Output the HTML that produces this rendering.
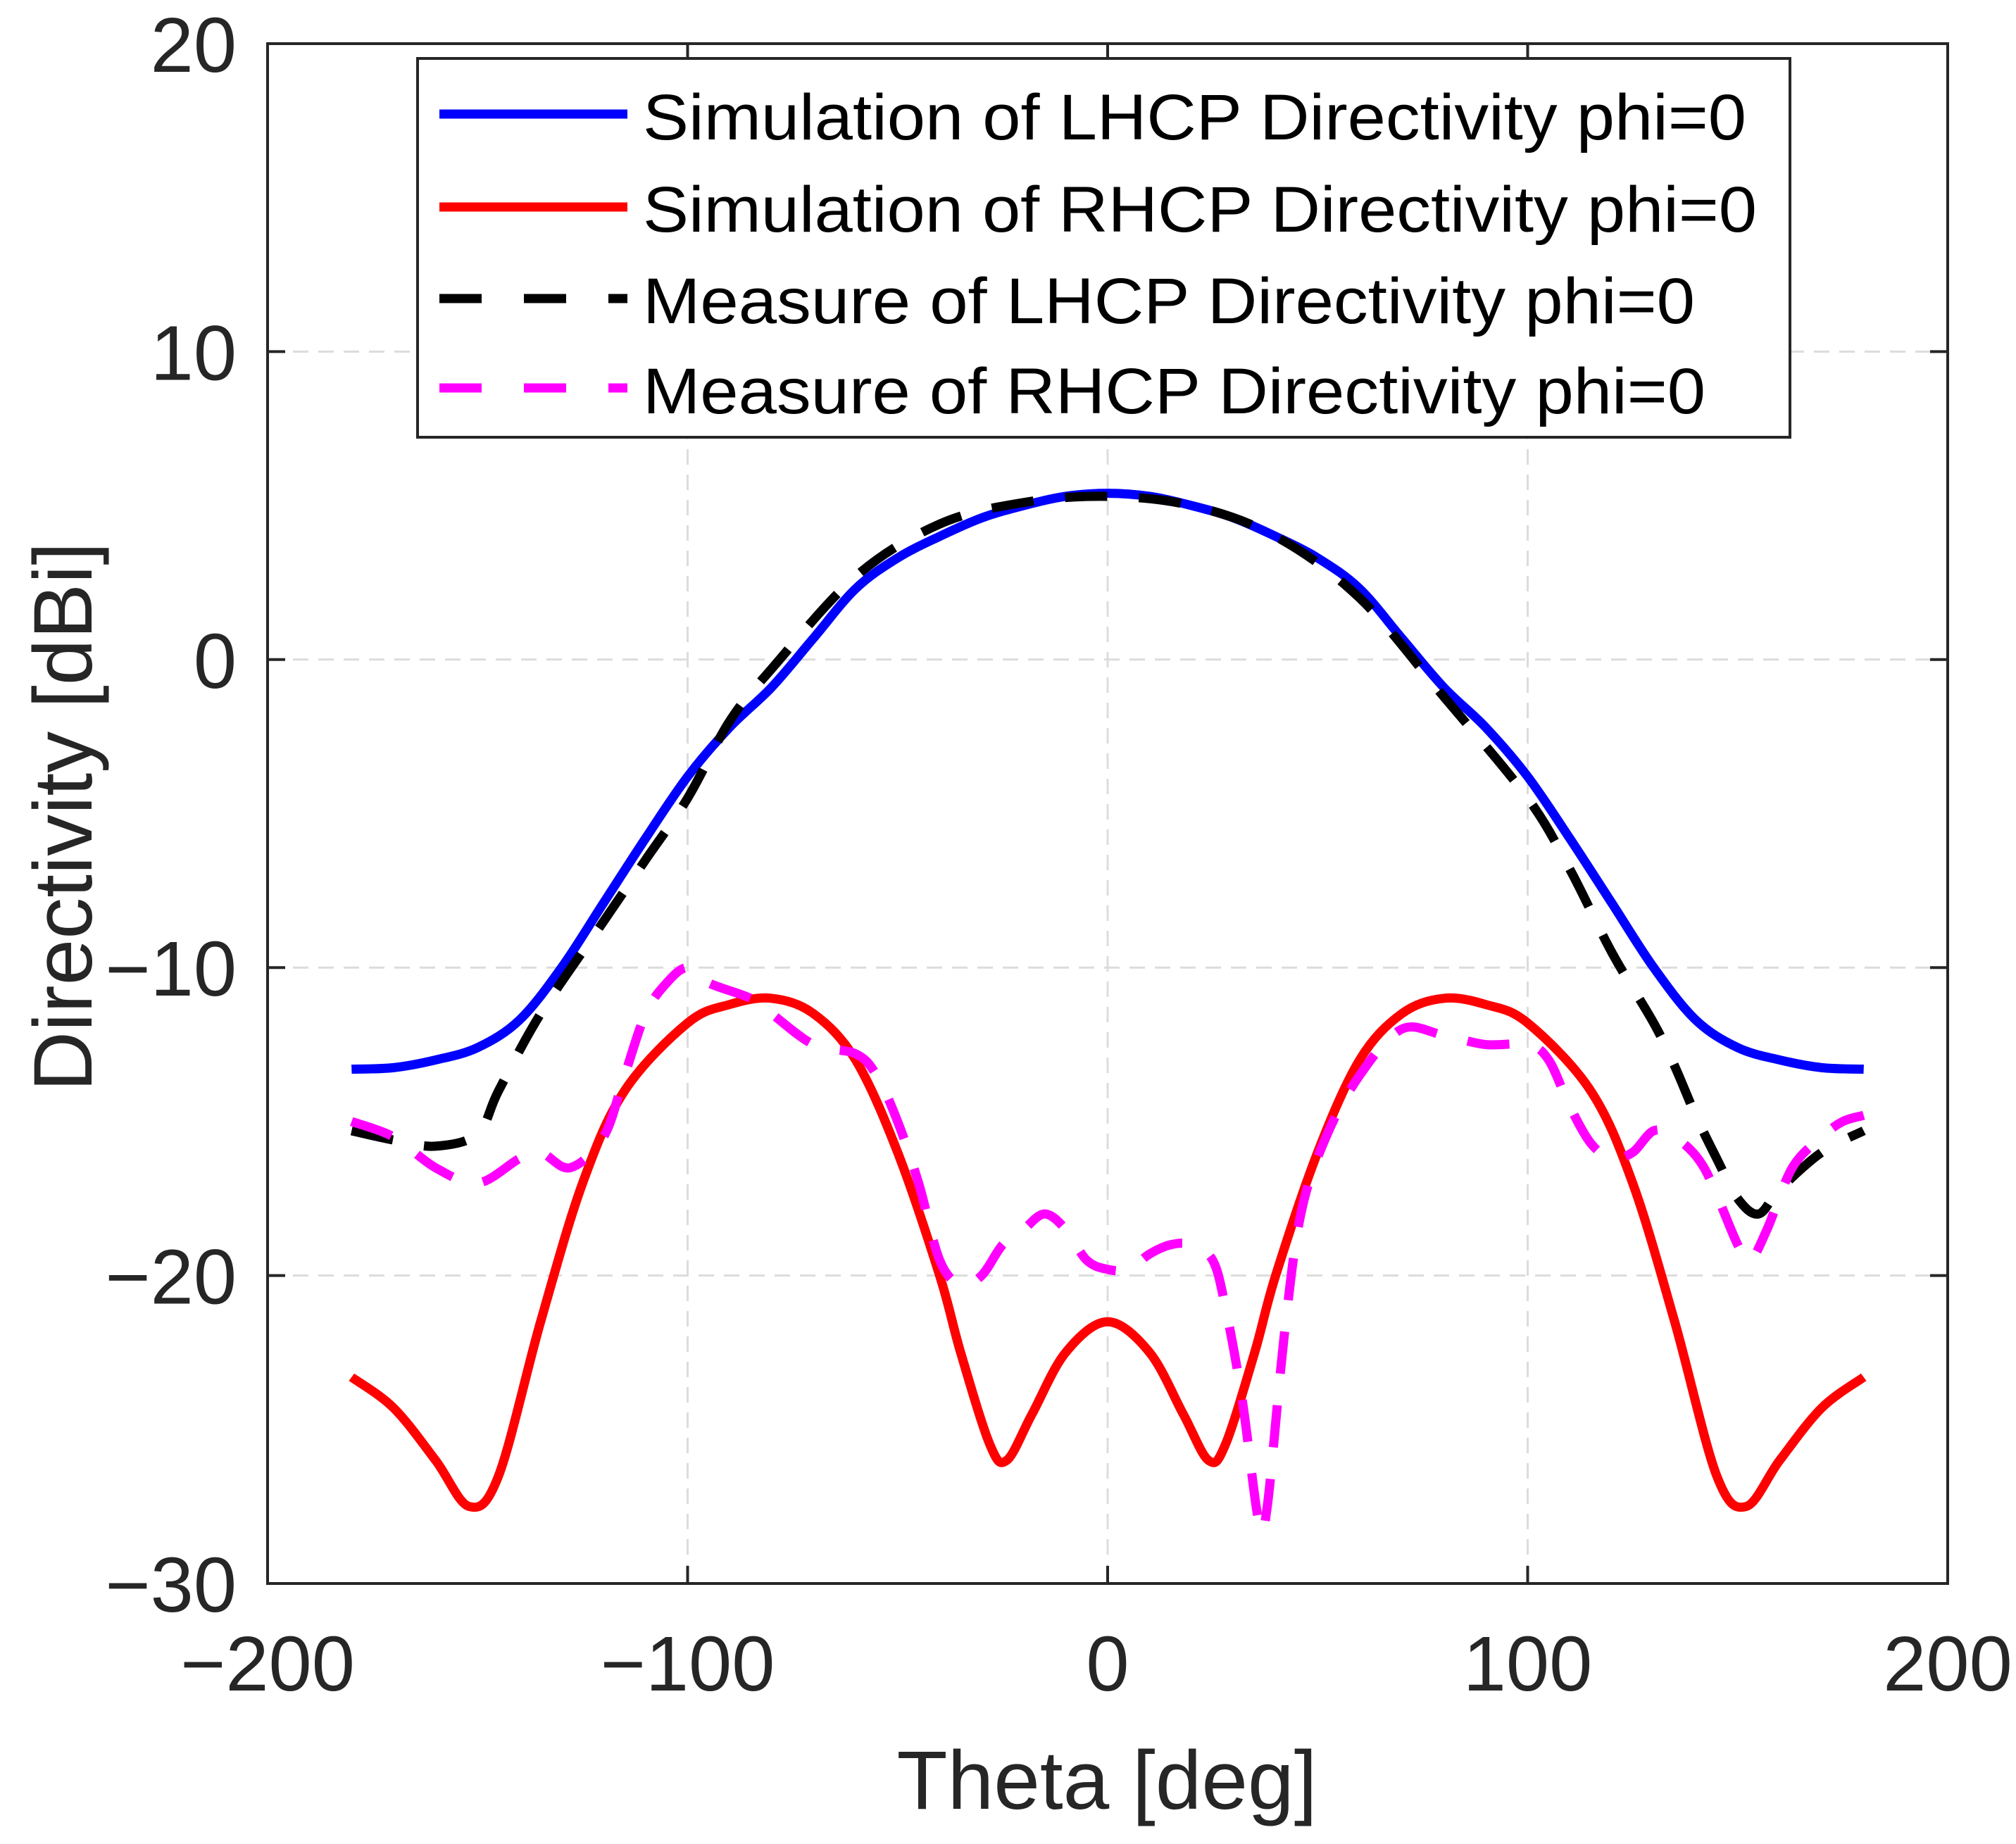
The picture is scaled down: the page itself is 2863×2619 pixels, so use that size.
<!DOCTYPE html>
<html><head><meta charset="utf-8"><style>
html,body{margin:0;padding:0;background:#fff}
svg{display:block}
text{font-family:"Liberation Sans",Arial,sans-serif;fill:#262626}
</style></head><body>
<svg id="chart" width="2863" height="2619" viewBox="0 0 2863 2619" xmlns="http://www.w3.org/2000/svg">
<g id="grid"></g>
<g id="series"></g>
<rect x="380" y="62" width="2386" height="2187" fill="none" stroke="#262626" stroke-width="4"/>
<g id="ticks"></g>
<text x="1572" y="2569" font-size="118" text-anchor="middle">Theta [deg]</text>
<text transform="translate(130,1160) rotate(-90)" font-size="118" text-anchor="middle">Directivity [dBi]</text>
<g>
<rect x="593" y="83" width="1949" height="538" fill="#fff" stroke="#262626" stroke-width="4"/>
<line x1="624" y1="162" x2="891" y2="162" stroke="#0000ff" stroke-width="13"/>
<text x="913" y="198" font-size="92" textLength="1567" lengthAdjust="spacingAndGlyphs" style="fill:#000">Simulation of LHCP Directivity phi=0</text>
<line x1="624" y1="294" x2="891" y2="294" stroke="#ff0000" stroke-width="13"/>
<text x="913" y="329" font-size="92" textLength="1582" lengthAdjust="spacingAndGlyphs" style="fill:#000">Simulation of RHCP Directivity phi=0</text>
<line x1="624" y1="424" x2="891" y2="424" stroke="#000" stroke-width="13" stroke-dasharray="60,60"/>
<text x="913" y="459" font-size="92" textLength="1494" lengthAdjust="spacingAndGlyphs" style="fill:#000">Measure of LHCP Directivity phi=0</text>
<line x1="624" y1="551" x2="891" y2="551" stroke="#ff00ff" stroke-width="13" stroke-dasharray="60,60"/>
<text x="913" y="587" font-size="92" textLength="1509" lengthAdjust="spacingAndGlyphs" style="fill:#000">Measure of RHCP Directivity phi=0</text>
</g>
</svg>
<script>
const xTicks=[-200,-100,0,100,200];
const yTicks=[-30,-20,-10,0,10,20];
const simLhcpTheta=[-180,-170,-160,-150,-140,-130,-120,-110,-100,-90,-80,-70,-60,-50,-40,-30,-20,-10,0,10,20,30,40,50,60,70,80,90,100,110,120,130,140,150,160,170,180];
const simLhcpVal=[-13.3,-13.25,-13.0,-12.6,-11.7,-10.0,-7.9,-5.8,-3.8,-2.2,-0.9,0.7,2.3,3.3,4.0,4.6,5.0,5.3,5.4,5.3,5.0,4.6,4.0,3.3,2.3,0.7,-0.9,-2.2,-3.8,-5.8,-7.9,-10.0,-11.7,-12.6,-13.0,-13.25,-13.3];
const simRhcpTheta=[-180,-170,-160,-152,-145,-135,-125,-115,-100,-90,-80,-70,-60,-50,-40,-35,-28,-24,-18,-10,0,10,18,24,28,35,40,50,60,70,80,90,100,115,125,135,145,152,160,170,180];
const simRhcpVal=[-23.3,-24.3,-26.0,-27.5,-26.5,-21.5,-17.0,-14.0,-11.8,-11.2,-11.0,-11.5,-13.0,-16.0,-20.0,-22.5,-25.5,-26.0,-24.5,-22.5,-21.5,-22.5,-24.5,-26.0,-25.5,-22.5,-20.0,-16.0,-13.0,-11.5,-11.0,-11.2,-11.8,-14.0,-17.0,-21.5,-26.5,-27.5,-26.0,-24.3,-23.3];
const measLhcpTheta=[-180,-170,-160,-150,-145,-135,-120,-110,-100,-90,-80,-60,-40,-20,0,20,40,60,80,100,110,120,130,135,140,145,150,155,160,170,180];
const measLhcpVal=[-15.3,-15.6,-15.8,-15.4,-14.0,-11.5,-8.5,-6.5,-4.5,-2.0,-0.3,2.7,4.4,5.1,5.3,5.0,4.0,2.0,-1.2,-4.5,-6.8,-9.5,-11.8,-13.2,-14.8,-16.2,-17.5,-18.0,-17.2,-16.0,-15.3];
const measRhcpTheta=[-180,-170,-160,-150,-140,-135,-128,-120,-115,-110,-105,-100,-95,-85,-80,-70,-60,-55,-50,-45,-40,-35,-30,-25,-20,-15,-10,-5,0,5,10,15,20,25,28,32,36,38,42,46,52,60,70,80,90,100,105,110,115,120,125,130,135,142,150,153,157,163,170,175,180];
const measRhcpVal=[-15.0,-15.5,-16.5,-17.0,-16.2,-16.0,-16.5,-15.5,-13.5,-11.5,-10.5,-10.0,-10.5,-11.0,-11.5,-12.5,-12.8,-13.5,-15.0,-17.0,-19.5,-20.3,-20.0,-19.0,-18.5,-18.0,-18.5,-19.5,-19.8,-19.8,-19.3,-19.0,-19.0,-19.5,-21.0,-24.0,-28.0,-27.5,-22.0,-18.0,-15.5,-13.5,-12.0,-12.2,-12.5,-12.5,-13.0,-14.5,-15.7,-16.2,-16.0,-15.3,-15.5,-16.5,-19.0,-19.5,-18.5,-16.5,-15.5,-15.0,-14.8];

const L=380,R=2766,T=62,B=2249,XMIN=-200,XMAX=200,YMIN=-30,YMAX=20;
const sx=v=>L+(v-XMIN)/(XMAX-XMIN)*(R-L);
const sy=v=>T+(YMAX-v)/(YMAX-YMIN)*(B-T);
const NS='http://www.w3.org/2000/svg';
function mk(tag,attrs,parent){const e=document.createElementNS(NS,tag);for(const k in attrs)e.setAttribute(k,attrs[k]);parent.appendChild(e);return e;}
const grid=document.getElementById('grid'),ticks=document.getElementById('ticks'),series=document.getElementById('series');
xTicks.forEach(t=>{
  const x=sx(t);
  if(t>XMIN&&t<XMAX){const g=mk('line',{x1:x,y1:T,x2:x,y2:B,stroke:'#dcdcdc','stroke-width':3,'stroke-dasharray':'22,14'},grid);
  
  }
  const a=mk('line',{x1:x,y1:B,x2:x,y2:B-25,stroke:'#262626','stroke-width':4},ticks);
  
  
  const b=mk('line',{x1:x,y1:T,x2:x,y2:T+25,stroke:'#262626','stroke-width':4},ticks);
  
  
  const tx=mk('text',{x:x,y:2401,'font-size':110,'text-anchor':'middle'},ticks);
  tx.textContent=t<0?'\u2212'+(-t):String(t);
  
  
});
yTicks.forEach(t=>{
  const y=sy(t);
  if(t>YMIN&&t<YMAX){const g=mk('line',{x1:L,y1:y,x2:R,y2:y,stroke:'#dcdcdc','stroke-width':3,'stroke-dasharray':'22,14'},grid);
  
  }
  const a=mk('line',{x1:L,y1:y,x2:L+25,y2:y,stroke:'#262626','stroke-width':4},ticks);
  
  
  const b=mk('line',{x1:R,y1:y,x2:R-25,y2:y,stroke:'#262626','stroke-width':4},ticks);
  
  
  const tx=mk('text',{x:336,y:y+40,'font-size':110,'text-anchor':'end'},ticks);
  tx.textContent=t<0?'\u2212'+(-t):String(t);
  
  
});
function smoothPath(xs,ys){
  const p=xs.map((v,i)=>[sx(v),sy(ys[i])]);
  let d='M'+p[0][0]+','+p[0][1];
  for(let i=0;i<p.length-1;i++){
    const p0=p[Math.max(0,i-1)],p1=p[i],p2=p[i+1],p3=p[Math.min(p.length-1,i+2)];
    const c1=[p1[0]+(p2[0]-p0[0])/6,p1[1]+(p2[1]-p0[1])/6];
    const c2=[p2[0]-(p3[0]-p1[0])/6,p2[1]-(p3[1]-p1[1])/6];
    d+=' C'+c1[0]+','+c1[1]+' '+c2[0]+','+c2[1]+' '+p2[0]+','+p2[1];
  }
  return d;
}
const s1=mk('path',{d:smoothPath(simLhcpTheta,simLhcpVal),fill:'none',stroke:'#0000ff','stroke-width':13},series);


const s2=mk('path',{d:smoothPath(simRhcpTheta,simRhcpVal),fill:'none',stroke:'#ff0000','stroke-width':13},series);


const s3=mk('path',{d:smoothPath(measLhcpTheta,measLhcpVal),fill:'none',stroke:'#000','stroke-width':13,'stroke-dasharray':'60,45'},series);


const s4=mk('path',{d:smoothPath(measRhcpTheta,measRhcpVal),fill:'none',stroke:'#ff00ff','stroke-width':13,'stroke-dasharray':'60,45'},series);


</script>
</body></html>
